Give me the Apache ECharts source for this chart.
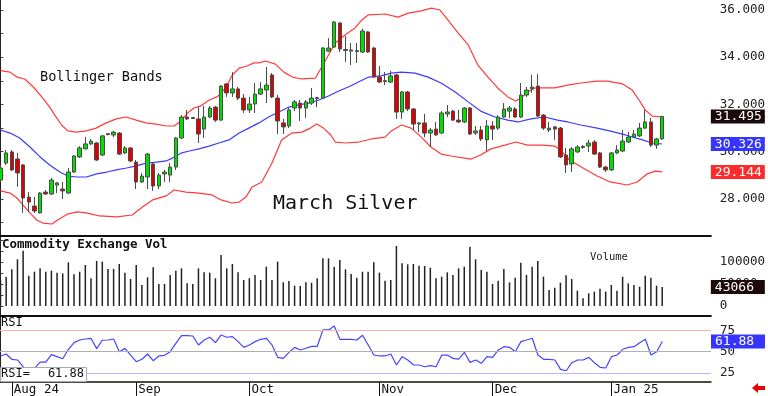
<!DOCTYPE html>
<html><head><meta charset="utf-8">
<script src="https://cdn.jsdelivr.net/npm/echarts@6/dist/echarts.min.js"></script>
<style>html,body{margin:0;padding:0;background:#fff}#c{width:768px;height:396px}</style>
</head><body><div id="c"></div>
<script>
// ---------- DATA ----------
const opens = [28.80,29.52,29.99,29.69,29.44,28.08,27.70,27.41,28.29,28.21,
28.59,28.42,28.25,29.14,29.78,30.12,30.33,30.37,29.86,30.76,
30.71,30.79,29.95,30.16,29.56,28.72,28.93,29.48,28.55,29.06,
29.01,29.35,30.58,31.47,31.45,31.39,30.96,31.47,31.89,31.34,
32.87,32.49,32.66,32.27,31.77,32.02,32.44,32.61,33.25,32.27,
31.22,31.09,31.85,32.06,31.85,32.06,32.29,32.27,34.26,34.43,
35.45,34.33,34.26,34.24,34.22,35.07,34.39,33.16,32.97,32.95,
33.25,31.68,32.53,31.81,31.17,31.22,30.79,30.96,30.79,31.60,
31.72,31.34,31.26,31.85,30.79,30.92,30.50,31.09,31.00,31.47,
31.72,31.81,31.47,32.40,32.66,32.78,31.55,30.92,31.05,31.00,
29.86,29.48,29.99,30.18,30.24,30.41,29.95,29.35,29.23,29.95,
30.03,30.41,30.62,30.67,31.00,31.26,30.28,30.54];
const closes = [29.31,29.95,29.23,29.10,28.04,27.87,27.49,28.25,28.21,28.80,
28.68,28.34,29.14,29.82,30.16,30.33,30.45,29.65,30.67,30.73,
30.83,29.90,30.16,29.61,28.72,28.97,29.90,28.55,29.01,29.14,
29.35,30.58,31.47,31.39,31.41,30.75,31.47,31.85,31.34,32.78,
32.49,32.66,32.27,31.77,32.02,32.44,32.66,32.82,32.32,31.30,
31.05,31.77,32.11,31.85,32.11,32.27,32.25,34.39,34.39,35.49,
34.35,34.29,34.31,34.28,35.11,34.22,33.16,32.95,33.01,33.21,
31.68,32.53,31.81,31.17,31.22,30.79,30.92,30.71,31.64,31.68,
31.34,31.26,31.85,30.75,30.88,30.54,31.09,30.96,31.47,31.81,
31.85,31.47,32.40,32.61,32.74,31.51,31.00,31.00,30.96,29.78,
29.44,30.12,30.20,30.22,30.37,29.90,29.35,29.23,29.95,30.07,
30.45,30.62,30.75,31.00,31.26,30.28,30.54,31.495];
const lows = [28.72,29.44,29.18,28.51,27.41,27.45,27.41,27.39,28.17,28.17,
28.25,28.00,28.21,29.10,29.73,30.10,30.28,29.61,29.82,30.69,
30.62,29.86,29.90,29.56,28.42,28.68,28.42,28.34,28.42,28.72,
28.72,29.23,30.54,31.34,31.39,30.37,30.58,31.43,31.26,31.30,
32.32,32.32,32.19,31.64,31.64,31.64,32.40,32.06,32.27,30.75,
30.75,31.00,31.72,31.30,31.43,31.98,31.89,32.23,34.22,34.39,
34.22,33.80,33.67,33.76,34.18,34.18,33.14,32.91,32.82,32.91,
31.39,31.39,31.72,30.92,30.83,30.62,30.20,30.67,30.75,31.47,
31.30,31.22,31.22,30.71,30.71,30.45,30.03,30.50,30.92,31.43,
31.43,31.43,31.43,32.32,32.49,31.47,30.92,30.83,30.50,29.73,
29.10,29.14,29.95,30.12,29.99,29.86,29.31,29.14,29.18,29.90,
29.99,30.37,30.58,30.62,30.96,30.20,30.12,30.50];
const highs = [29.44,30.07,30.07,29.95,29.48,28.29,28.08,28.29,28.38,28.89,
28.72,28.72,29.31,29.86,30.24,30.62,30.54,30.41,30.71,30.79,
30.88,30.83,30.24,30.20,29.65,29.10,29.95,29.52,29.10,29.23,
29.52,30.62,31.55,31.77,31.47,31.89,31.94,31.94,31.94,32.82,
32.91,33.37,32.74,32.44,32.32,32.91,32.95,33.59,33.33,32.40,
31.39,31.85,32.19,32.19,32.19,32.70,32.32,34.43,34.81,35.53,
35.49,34.90,34.60,34.60,35.20,35.11,34.43,33.63,33.37,33.42,
33.29,32.57,32.57,31.85,31.26,31.60,31.00,31.26,31.72,31.98,
31.77,31.77,31.89,31.89,31.09,31.09,31.34,31.30,31.55,32.06,
31.94,31.89,32.91,32.74,33.25,33.29,31.60,31.26,31.09,31.05,
30.16,30.20,30.28,30.28,30.50,30.50,29.99,29.40,29.99,30.28,
30.92,30.83,30.92,31.22,31.77,31.43,30.58,31.51];
const volumes = [60000,66700,83300,106000,125800,68900,78000,85600,78000,80300,
75800,74200,99200,72000,78000,93200,62900,102300,100800,84100,
84100,95500,75800,61400,93200,47700,65200,87900,50000,50000,
70500,80300,85600,51500,50000,85600,76500,75800,62900,115900,
85600,95500,76500,59100,62900,70500,59100,89400,59100,100800,
53800,56800,46200,45500,53800,53000,62900,108300,108300,89400,
104500,83300,72700,64400,78000,78000,99200,75800,57600,59100,
136400,97000,94700,95500,91700,90900,87100,62900,66700,76500,
70500,85600,89400,134800,106100,81800,78000,50000,57600,84100,
53800,64400,98500,70500,89400,102300,66700,36400,41700,53000,
69700,61400,34800,17400,28800,32600,39400,32600,47700,34800,
66700,51500,47700,43900,68900,64400,46200,43066];
const rsi = [45.0,47.3,41.1,40.3,32.4,26.6,30.5,37.9,37.9,46.5,
44.2,41.8,52.8,60.6,63.7,64.9,65.7,53.6,63.4,63.7,
64.9,50.0,53.9,46.1,38.3,41.1,47.3,39.5,45.0,45.7,
50.0,59.8,68.8,68.8,68.4,57.9,63.7,66.9,60.6,69.6,
66.9,67.7,61.8,55.1,57.9,61.8,64.5,65.7,57.9,43.4,
42.2,49.3,55.1,52.0,54.0,56.3,56.3,75.5,75.5,80.2,
64.5,64.5,64.5,63.7,69.2,57.9,46.1,45.0,45.0,47.3,
34.4,44.2,40.3,34.4,34.4,32.4,33.6,32.4,46.1,46.1,
42.2,41.4,49.3,37.5,40.3,36.4,44.2,43.4,52.0,55.9,
55.1,50.0,61.8,63.7,65.7,46.1,41.1,41.1,40.3,29.3,
27.7,37.1,40.3,40.3,43.4,37.1,31.7,30.9,44.2,46.1,
52.8,55.1,55.9,60.6,64.5,46.1,50.0,61.88];
// Bollinger bands: [bar index, price]
const upperBand = [[0,33.43],[1.7,33.37],[2.9,33.16],[4.3,33.08],[5.8,32.74],[7.3,32.32],[8.7,31.89],[9.6,31.55],[10.8,31.13],[11.9,30.88],[13.4,30.83],[15.2,30.88],[16.9,31.00],[18.7,31.22],[20.5,31.39],[22.2,31.47],[24.0,31.34],[25.7,31.22],[27.5,31.17],[29.3,31.09],[30.7,31.09],[31.9,31.30],[33.1,31.64],[34.2,31.85],[35.4,31.94],[36.9,32.19],[38.3,32.32],[39.8,32.70],[41.0,33.25],[42.2,33.54],[43.6,33.63],[44.8,33.76],[45.7,33.76],[46.9,33.84],[48.6,33.71],[50.1,33.37],[51.6,33.16],[53.3,33.08],[55.7,33.12],[56.5,33.46],[57.7,33.97],[59.2,34.60],[60.9,34.94],[62.7,35.24],[63.9,35.58],[65.0,35.79],[68.0,35.83],[70.3,35.70],[72.1,35.87],[74.4,35.96],[76.2,36.08],[77.7,36.00],[79.1,35.58],[80.9,35.03],[82.7,34.52],[84.4,33.67],[86.2,33.16],[87.9,32.70],[89.7,32.32],[91.1,32.15],[92.0,32.27],[93.2,32.53],[94.5,32.70],[95.9,32.70],[98.0,32.70],[100.3,32.82],[102.6,32.91],[105.5,32.99],[107.3,32.99],[110.0,32.87],[111.7,32.61],[112.9,32.19],[114.0,31.77],[115.2,31.51],[117,31.47]];
const midBand = [[0,30.92],[1.7,30.79],[3.4,30.58],[5.2,30.20],[7.0,29.78],[8.7,29.44],[10.5,29.14],[11.9,28.97],[13.5,28.93],[15.2,28.93],[17.0,29.06],[18.8,29.14],[20.5,29.23],[22.3,29.31],[24.0,29.40],[25.8,29.52],[27.6,29.56],[29.3,29.61],[30.4,29.73],[32.0,29.95],[33.4,30.03],[35.1,30.12],[36.9,30.24],[38.6,30.37],[40.4,30.50],[42.2,30.79],[43.9,31.00],[45.7,31.22],[47.4,31.47],[49.2,31.68],[51.0,31.89],[52.7,31.98],[54.5,32.06],[56.3,32.19],[58.0,32.36],[59.8,32.57],[61.5,32.74],[63.3,32.95],[65.1,33.16],[67.3,33.21],[69.1,33.33],[70.9,33.37],[73.3,33.33],[75.6,33.16],[77.9,32.91],[80.4,32.53],[82.7,32.11],[84.9,31.72],[87.4,31.47],[89.7,31.34],[91.5,31.26],[93.8,31.39],[96.2,31.47],[98.5,31.34],[100.3,31.26],[102.6,31.13],[105.5,31.00],[107.7,30.88],[110.5,30.71],[113.5,30.50],[115.2,30.37],[117,30.326]];
const lowerBand = [[0,28.34],[1.7,28.25],[2.9,28.04],[4.0,27.74],[5.2,27.41],[6.4,27.11],[7.5,26.98],[9.1,26.94],[10.1,27.11],[11.9,27.36],[13.5,27.45],[15.2,27.41],[17.5,27.28],[20.5,27.24],[23.3,27.32],[25.1,27.66],[26.9,27.96],[29.3,28.13],[30.7,28.38],[32.8,28.29],[35.1,28.25],[37.4,28.17],[39.0,27.96],[40.9,27.83],[42.2,27.87],[43.4,28.08],[44.5,28.51],[46.2,28.72],[48.0,29.52],[49.7,30.50],[51.5,30.79],[53.3,30.83],[54.8,31.00],[55.9,31.17],[57.1,31.00],[58.4,30.71],[59.2,30.41],[61.0,30.37],[63.3,30.41],[65.6,30.54],[68.0,30.62],[69.1,30.88],[70.9,31.13],[72.6,31.00],[74.4,30.62],[76.1,30.20],[77.9,29.90],[79.7,29.82],[82.1,29.73],[83.2,29.69],[84.9,29.86],[86.7,30.12],[89.2,30.28],[91.1,30.41],[93.2,30.28],[95.9,30.28],[98.0,30.24],[99.0,30.07],[100.6,29.65],[103.3,29.27],[105.5,28.97],[107.8,28.72],[110.8,28.59],[112.6,28.72],[114.3,29.06],[115.8,29.18],[117,29.144]];
const monthIdx = [2,24,44,67,87,108];
const monthNames = ['Aug 24','Sep','Oct','Nov','Dec','Jan 25'];
const priceTicks = [28,30,32,34,36];
const volTicks = [0,50000,100000];
const rsiTicks = [25,50,75];

// ---------- CHART ----------
const MONO = "'DejaVu Sans Mono', monospace";
const N = closes.length;
const idx = closes.map((_, i) => i);
const candles = idx.map(i => [i, opens[i], closes[i], lows[i], highs[i]]);
const lastClose = closes[N-1];
const lastMid = midBand[midBand.length-1][1];
const lastLow = lowerBand[lowerBand.length-1][1];
const lastVol = volumes[N-1];
const lastRsi = rsi[N-1];
const XMIN = -0.088, XMAX = 125.6;

const chart = echarts.init(document.getElementById('c'), null, {renderer:'canvas'});
const xAx = (g, extra) => Object.assign({
  type:'value', gridIndex:g, min:XMIN, max:XMAX,
  axisLine:{show:true, onZero:false, lineStyle:{color:'#111', width: g<2 ? 2 : 1.5}},
  axisTick:{show:false}, axisLabel:{show:false}, splitLine:{show:false}
}, extra || {});
const baseY = (g, min, max, labels, ticks, fmt) => ({
  type:'value', gridIndex:g, position:'right', min:min, max:max, scale:true,
  axisLine:{show:true, lineStyle:{color:'#222', width:1}},
  axisTick:{show:true, length:3, customValues:ticks, lineStyle:{color:'#444'}},
  axisLabel:{customValues:labels, margin:9, color:'#222', fontFamily:MONO, fontSize:12.5, formatter:fmt},
  splitLine:{show:false}
});
const tagRich = (bg) => ({color:'#fff', backgroundColor:bg, padding:[1,3,0,4], width:47, fontSize:13, lineHeight:13, fontFamily:MONO});
const tagY = (g, min, max, values, keys, fmt) => ({
  type:'value', gridIndex:g, position:'right', min:min, max:max, z:10,
  axisLine:{show:false}, axisTick:{show:false}, splitLine:{show:false},
  axisLabel:{customValues:values, margin:0, formatter:(v) => {
      let k = 0, best = 1e9;
      values.forEach((t, j) => { const d = Math.abs(t - v); if (d < best) { best = d; k = j; } });
      return '{' + keys[k] + '|' + fmt(values[k]) + '}';
    },
    rich:{k:tagRich('#1c0a0a'), b:tagRich('#3535ff'), r:tagRich('#ff2a2a')}}
});

const P_MIN = 26.432, P_MAX = 36.4234;
const V_MIN = -22727, V_MAX = 156818;
const R_MIN = 14.52, R_MAX = 90.63;

const option = {
  animation:false,
  backgroundColor:'#fff',
  title:[
    {text:'Bollinger Bands', left:40, top:70, padding:0, textStyle:{fontFamily:MONO, fontSize:13.6, fontWeight:'normal', color:'#111'}},
    {text:'March Silver', left:273, top:194, padding:0, textStyle:{fontFamily:MONO, fontSize:20, fontWeight:'normal', color:'#111'}},
    {text:'Commodity Exchange Vol', left:2, top:238, padding:0, textStyle:{fontFamily:MONO, fontSize:12.5, fontWeight:'bold', color:'#111'}},
    {text:'Volume', left:590, top:252, padding:0, textStyle:{fontFamily:MONO, fontSize:10.5, fontWeight:'normal', color:'#222'}},
    {text:'RSI', left:1, top:317, padding:0, textStyle:{fontFamily:MONO, fontSize:12, fontWeight:'normal', color:'#111'}}
  ],
  grid:[
    {left:0, top:0, width:714, height:236},
    {left:0, top:237, width:714, height:79},
    {left:0, top:317, width:714, height:65}
  ],
  xAxis:[
    xAx(0), xAx(1),
    xAx(2, {
      axisTick:{show:true, customValues:monthIdx, length:14, lineStyle:{color:'#111', width:1}},
      axisLabel:{show:true, customValues:monthIdx, margin:1, align:'left', padding:[0,0,0,2],
        color:'#111', fontFamily:MONO, fontSize:12.5,
        formatter:(v) => { const j = monthIdx.findIndex(m => Math.abs(m - v) < 0.01); return j >= 0 ? monthNames[j] : ''; }}
    })
  ],
  yAxis:[
    baseY(0, P_MIN, P_MAX, priceTicks, [27,28,29,30,31,32,33,34,35,36], v => v.toFixed(3)),
    tagY(0, P_MIN, P_MAX, [lastClose, lastMid, lastLow], ['k','b','r'], v => v.toFixed(3)),
    baseY(1, V_MIN, V_MAX, volTicks, [0,25000,50000,75000,100000,125000,150000], v => String(v)),
    tagY(1, V_MIN, V_MAX, [lastVol], ['k'], v => String(v)),
    baseY(2, R_MIN, R_MAX, rsiTicks, [25,50,75], v => String(v)),
    tagY(2, R_MIN, R_MAX, [lastRsi], ['b'], v => v.toFixed(2))
  ],
  series:[
    {type:'line', xAxisIndex:0, yAxisIndex:0, data:upperBand, showSymbol:false, z:1, silent:true,
      lineStyle:{color:'#ff3a3a', width:1.2}},
    {type:'line', xAxisIndex:0, yAxisIndex:0, data:midBand, showSymbol:false, z:1, silent:true,
      lineStyle:{color:'#3a3aff', width:1.2}},
    {type:'line', xAxisIndex:0, yAxisIndex:0, data:lowerBand, showSymbol:false, z:1, silent:true,
      lineStyle:{color:'#ff3a3a', width:1.2}},
    {type:'candlestick', xAxisIndex:0, yAxisIndex:0, data:candles, barWidth:4, z:3,
      itemStyle:{color:'#00e000', color0:'#e00000', borderColor:'#4a4a4a', borderColor0:'#4a4a4a', borderWidth:1}},
    {type:'bar', xAxisIndex:1, yAxisIndex:2, data:idx.map(i => [i, volumes[i]]), barWidth:1.5,
      itemStyle:{color:'#222'}, silent:true},
    {type:'line', xAxisIndex:2, yAxisIndex:4, data:idx.map(i => [i, rsi[i]]), showSymbol:false, silent:true,
      lineStyle:{color:'#4545ff', width:1.2}, z:3,
      markLine:{silent:true, symbol:['none','none'], label:{show:false},
        data:[
          {yAxis:rsiTicks[2], lineStyle:{color:'#ffb0b0', width:1, type:'solid'}},
          {yAxis:rsiTicks[1], lineStyle:{color:'#b0b0b0', width:1, type:'solid'}},
          {yAxis:rsiTicks[0], lineStyle:{color:'#b8b8ff', width:1, type:'solid'}}
        ]}}
  ],
  graphic:[
    {type:'rect', left:0, top:367, z:20, shape:{width:86, height:14}, style:{fill:'#fff', stroke:'#aaa', lineWidth:1}},
    {type:'text', x:1, y:368, z:21, style:{text:'RSI=', font:'12px ' + MONO, fill:'#111'}},
    {type:'text', x:84, y:368, z:21, style:{text:lastRsi.toFixed(2), textAlign:'right', font:'12px ' + MONO, fill:'#111'}},
    {type:'polygon', z:20, shape:{points:[[752,388],[758,383],[758,386],[765,386],[765,390],[758,390],[758,393]]}, style:{fill:'#ee0000'}}
  ]
};
chart.setOption(option);
</script></body></html>
